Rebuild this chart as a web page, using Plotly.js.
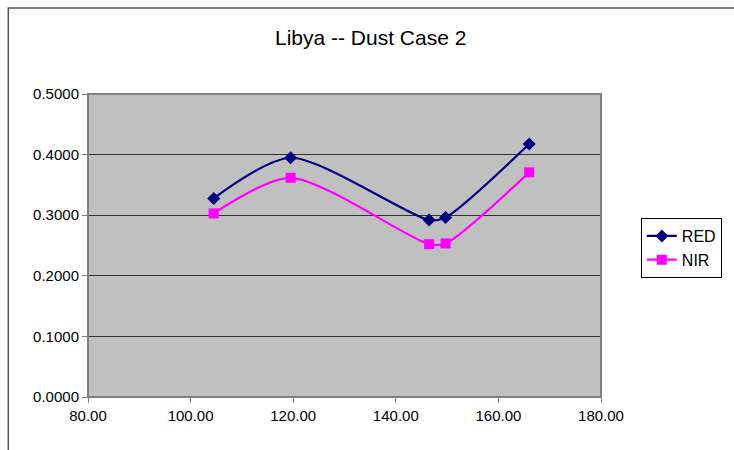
<!DOCTYPE html>
<html>
<head>
<meta charset="utf-8">
<script src="https://cdn.plot.ly/plotly-3.0.1.min.js"></script>
<style>html,body{margin:0;padding:0;background:#fff;}#chart{width:734px;height:450px;}</style>
</head>
<body>
<div id="chart"></div>
<script>
const xValues = [104.5, 119.5, 146.5, 149.7, 166.0];
const redValues = [0.3277, 0.3948, 0.2919, 0.2963, 0.4174];
const nirValues = [0.3029, 0.3617, 0.2522, 0.2534, 0.3707];
const seriesNames = ["RED", "NIR"];
const chartTitle = "Libya -- Dust Case 2";

const W = 734, H = 450;
const mL = 88, mR = 131, mT = 94, mB = 53;
const pw = W - mL - mR, ph = H - mT - mB;
const px = v => (v - mL) / pw;
const py = v => (H - mB - v) / ph;

const traces = [
  {x: xValues, y: redValues, name: seriesNames[0], type: 'scatter', mode: 'lines+markers',
   line: {color: '#000080', width: 2.2, shape: 'spline', smoothing: 0.75},
   marker: {symbol: 'diamond', size: 10, color: '#000080'}},
  {x: xValues, y: nirValues, name: seriesNames[1], type: 'scatter', mode: 'lines+markers',
   line: {color: '#FF00FF', width: 2.2, shape: 'spline', smoothing: 0.75},
   marker: {symbol: 'square', size: 10, color: '#FF00FF'}}
];

const layout = {
  width: W, height: H,
  margin: {l: mL, r: mR, t: mT, b: mB, pad: 0},
  paper_bgcolor: '#ffffff',
  plot_bgcolor: '#C0C0C0',
  font: {family: 'Liberation Sans, Arial, sans-serif', size: 15, color: '#000'},
  title: {text: chartTitle, x: 0.505, xanchor: 'center', y: 1 - 38/H, yanchor: 'middle',
          font: {size: 21, color: '#000'}},
  showlegend: true,
  legend: {x: px(643), y: py(218), xanchor: 'left', yanchor: 'top',
           bgcolor: '#fff', bordercolor: '#000', borderwidth: 1,
           font: {size: 16, color: '#000'}, tracegroupgap: 0},
  xaxis: {range: [80, 180], dtick: 20, tick0: 80, tickformat: '.2f',
          showgrid: false, zeroline: false, showline: false,
          ticks: 'outside', ticklen: 5, tickcolor: '#808080', tickwidth: 1,
          tickfont: {size: 15}},
  yaxis: {range: [0, 0.5], dtick: 0.1, tickformat: '.4f',
          showgrid: true, gridcolor: '#333333', gridwidth: 1, zeroline: false, showline: false,
          ticks: 'outside', ticklen: 5, tickcolor: '#808080', tickwidth: 1,
          tickfont: {size: 15}},
  shapes: [
    {type: 'rect', xref: 'paper', yref: 'paper', x0: 0, x1: 1, y0: 0, y1: 1,
     line: {color: '#808080', width: 2}, layer: 'above'},
    {type: 'rect', xref: 'paper', yref: 'paper', x0: px(8), x1: px(760), y0: py(480), y1: py(8),
     line: {color: '#555555', width: 1.5}, layer: 'below'}
  ]
};

Plotly.newPlot('chart', traces, layout, {displayModeBar: false, staticPlot: true});
</script>
</body>
</html>
